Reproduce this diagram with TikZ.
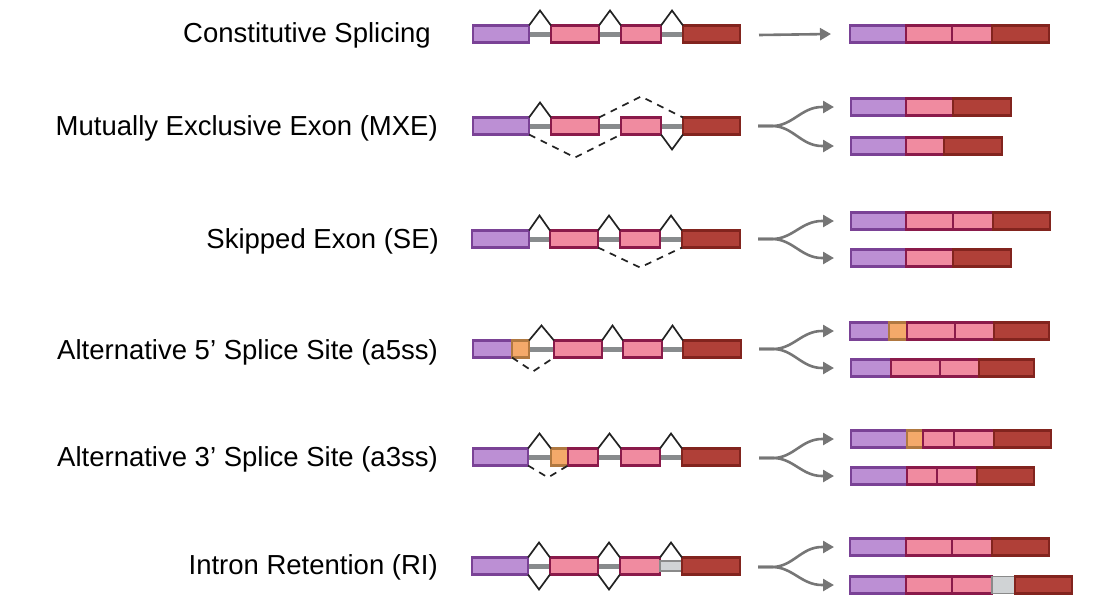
\documentclass[tikz,border=0pt]{standalone}
\usepackage{fontspec}
\setmainfont{Liberation Sans}
\usetikzlibrary{arrows.meta,calc,backgrounds}
\definecolor{purpfill}{RGB}{188,143,212}
\definecolor{purpdraw}{RGB}{122,66,150}
\definecolor{pinkfill}{RGB}{240,139,160}
\definecolor{pinkdraw}{RGB}{138,26,74}
\definecolor{redfill}{RGB}{176,64,56}
\definecolor{reddraw}{RGB}{130,36,30}
\definecolor{orfill}{RGB}{244,169,106}
\definecolor{ordraw}{RGB}{176,120,64}
\definecolor{introngray}{RGB}{136,139,141}
\definecolor{rifill}{RGB}{208,211,213}
\definecolor{ridraw}{RGB}{138,138,138}
\definecolor{arrgray}{RGB}{118,118,118}
\definecolor{splicecol}{RGB}{34,34,34}
\begin{document}
\begin{tikzpicture}[x=1pt,y=-1pt,
  ex/.style={draw, line width=2.2pt, inner sep=0pt, outer sep=0pt, minimum height=17pt, anchor=west},
  purp/.style={ex, fill=purpfill, draw=purpdraw},
  pink/.style={ex, fill=pinkfill, draw=pinkdraw},
  red/.style={ex, fill=redfill, draw=reddraw},
  orng/.style={ex, fill=orfill, draw=ordraw},
  ri/.style={ex, fill=rifill, draw=ridraw, line width=1.5pt},
  riin/.style={ex, fill=rifill, draw=ridraw, line width=1.2pt, minimum height=10pt},
  intron/.style={draw=introngray, line width=5pt},
  splice/.style={draw=splicecol, line width=1.7pt, line join=miter},
  skip/.style={draw=splicecol, line width=1.7pt, dash pattern=on 7pt off 6pt},
  arr/.style={draw=arrgray, line width=2.6pt, -{Triangle[length=11pt,width=12pt]}},
  lab/.style={anchor=base east, inner sep=0pt, font=\fontsize{27.5}{30}\selectfont}
]
\useasboundingbox (0,0) rectangle (1116,614);

% ---------- labels ----------
\node[lab] (l1) at (431,42.5) {Constitutive Splicing};
\node[lab] (l2) at (438,135) {Mutually Exclusive Exon (MXE)};
\node[lab] (l3) at (439,248) {Skipped Exon (SE)};
\node[lab] (l4) at (438,359) {Alternative 5’ Splice Site (a5ss)};
\node[lab] (l5) at (438,466) {Alternative 3’ Splice Site (a3ss)};
\node[lab] (l6) at (438,574) {Intron Retention (RI)};

% ---------- row 1: constitutive ----------
\node[purp, minimum width=56pt] (a1) at (473,34) {};
\node[pink, minimum width=48pt] (a2) at (551,34) {};
\node[pink, minimum width=40pt] (a3) at (621,34) {};
\node[red,  minimum width=57pt] (a4) at (683,34) {};
\begin{scope}[on background layer]
\draw[intron] (a1.east) -- (a2.west);
\draw[intron] (a2.east) -- (a3.west);
\draw[intron] (a3.east) -- (a4.west);
\end{scope}
\draw[splice] (a1.north east) -- ($(a1.north east)!.5!(a2.north west)+(0,-15)$) -- (a2.north west);
\draw[splice] (a2.north east) -- ($(a2.north east)!.5!(a3.north west)+(0,-15)$) -- (a3.north west);
\draw[splice] (a3.north east) -- ($(a3.north east)!.5!(a4.north west)+(0,-15)$) -- (a4.north west);

\node[purp, minimum width=56pt] (m1a) at (850,34) {};
\node[pink, minimum width=46pt] (m1b) at (906,34) {};
\node[pink, minimum width=40pt] (m1c) at (952,34) {};
\node[red,  minimum width=57pt] (m1d) at (992,34) {};
\coordinate (s1) at (759,35);
\draw[arr] (s1) -- ([xshift=-19pt]m1a.west);

% ---------- row 2: MXE ----------
\node[purp, minimum width=56pt] (b1) at (473,126) {};
\node[pink, minimum width=48pt] (b2) at (551,126) {};
\node[pink, minimum width=40pt] (b3) at (621,126) {};
\node[red,  minimum width=57pt] (b4) at (683,126) {};
\begin{scope}[on background layer]
\draw[intron] (b1.east) -- (b2.west);
\draw[intron] (b2.east) -- (b3.west);
\draw[intron] (b3.east) -- (b4.west);
\end{scope}
\draw[splice] (b1.north east) -- ($(b1.north east)!.5!(b2.north west)+(0,-15)$) -- (b2.north west);
\draw[skip] (b2.north east) -- ($(b2.north east)!.5!(b4.north west)+(0,-21)$) -- (b4.north west);
\draw[skip] (b1.south east) -- ($(b1.south east)!.5!(b3.south west)+(0,23)$) -- (b3.south west);
\draw[splice] (b3.south east) -- ($(b3.south east)!.5!(b4.south west)+(0,15)$) -- (b4.south west);

\node[purp, minimum width=55pt] (n1a) at (851,107) {};
\node[pink, minimum width=47pt] (n1b) at (906,107) {};
\node[red,  minimum width=58pt] (n1c) at (953,107) {};
\node[purp, minimum width=55pt] (n2a) at (851,146) {};
\node[pink, minimum width=38pt] (n2b) at (906,146) {};
\node[red,  minimum width=58pt] (n2c) at (944,146) {};
\coordinate (s2) at (758,126);
\draw[arr] (s2) -- ++(14,0) to[out=0,in=180] ([xshift=-29pt]n1a.west) -- ([xshift=-17pt]n1a.west);
\draw[arr] (s2) -- ++(14,0) to[out=0,in=180] ([xshift=-29pt]n2a.west) -- ([xshift=-17pt]n2a.west);

% ---------- row 3: SE ----------
\node[purp, minimum width=57pt] (c1) at (472,239) {};
\node[pink, minimum width=48pt] (c2) at (550,239) {};
\node[pink, minimum width=40pt] (c3) at (620,239) {};
\node[red,  minimum width=58pt] (c4) at (682,239) {};
\begin{scope}[on background layer]
\draw[intron] (c1.east) -- (c2.west);
\draw[intron] (c2.east) -- (c3.west);
\draw[intron] (c3.east) -- (c4.west);
\end{scope}
\draw[splice] (c1.north east) -- ($(c1.north east)!.5!(c2.north west)+(0,-15)$) -- (c2.north west);
\draw[splice] (c2.north east) -- ($(c2.north east)!.5!(c3.north west)+(0,-15)$) -- (c3.north west);
\draw[splice] (c3.north east) -- ($(c3.north east)!.5!(c4.north west)+(0,-15)$) -- (c4.north west);
\draw[skip] (c2.south east) -- ($(c2.south east)!.5!(c4.south west)+(0,20)$) -- (c4.south west);

\node[purp, minimum width=55pt] (o1a) at (851,221) {};
\node[pink, minimum width=47pt] (o1b) at (906,221) {};
\node[pink, minimum width=40pt] (o1c) at (953,221) {};
\node[red,  minimum width=57pt] (o1d) at (993,221) {};
\node[purp, minimum width=55pt] (o2a) at (851,258) {};
\node[pink, minimum width=47pt] (o2b) at (906,258) {};
\node[red,  minimum width=58pt] (o2c) at (953,258) {};
\coordinate (s3) at (758,239);
\draw[arr] (s3) -- ++(14,0) to[out=0,in=180] ([xshift=-29pt]o1a.west) -- ([xshift=-17pt]o1a.west);
\draw[arr] (s3) -- ++(14,0) to[out=0,in=180] ([xshift=-29pt]o2a.west) -- ([xshift=-17pt]o2a.west);

% ---------- row 4: a5ss ----------
\node[purp, minimum width=39pt] (d1) at (473,349) {};
\node[orng, minimum width=17pt] (d0) at (512,349) {};
\node[pink, minimum width=48pt] (d2) at (554,349) {};
\node[pink, minimum width=39pt] (d3) at (623,349) {};
\node[red,  minimum width=58pt] (d4) at (683,349) {};
\begin{scope}[on background layer]
\draw[intron] (d0.east) -- (d2.west);
\draw[intron] (d2.east) -- (d3.west);
\draw[intron] (d3.east) -- (d4.west);
\end{scope}
\draw[splice] (d0.north east) -- ($(d0.north east)!.5!(d2.north west)+(0,-15)$) -- (d2.north west);
\draw[splice] (d2.north east) -- ($(d2.north east)!.5!(d3.north west)+(0,-15)$) -- (d3.north west);
\draw[splice] (d3.north east) -- ($(d3.north east)!.5!(d4.north west)+(0,-15)$) -- (d4.north west);
\draw[skip] (d1.south east) -- ($(d1.south east)!.5!(d2.south west)+(0,14)$) -- (d2.south west);

\node[purp, minimum width=39pt] (p1a) at (850,331) {};
\node[orng, minimum width=18pt] (p1b) at (889,331) {};
\node[pink, minimum width=48pt] (p1c) at (907,331) {};
\node[pink, minimum width=39pt] (p1d) at (955,331) {};
\node[red,  minimum width=55pt] (p1e) at (994,331) {};
\node[purp, minimum width=40pt] (p2a) at (851,368) {};
\node[pink, minimum width=49pt] (p2b) at (891,368) {};
\node[pink, minimum width=39pt] (p2c) at (940,368) {};
\node[red,  minimum width=55pt] (p2d) at (979,368) {};
\coordinate (s4) at (759,349);
\draw[arr] (s4) -- ++(14,0) to[out=0,in=180] ([xshift=-28pt]p1a.west) -- ([xshift=-16pt]p1a.west);
\draw[arr] (s4) -- ++(14,0) to[out=0,in=180] ([xshift=-29pt]p2a.west) -- ([xshift=-17pt]p2a.west);

% ---------- row 5: a3ss ----------
\node[purp, minimum width=55pt] (e1) at (473,457) {};
\node[orng, minimum width=17pt] (e0) at (551,457) {};
\node[pink, minimum width=30pt] (e2) at (568,457) {};
\node[pink, minimum width=39pt] (e3) at (621,457) {};
\node[red,  minimum width=58pt] (e4) at (682,457) {};
\begin{scope}[on background layer]
\draw[intron] (e1.east) -- (e0.west);
\draw[intron] (e2.east) -- (e3.west);
\draw[intron] (e3.east) -- (e4.west);
\end{scope}
\draw[splice] (e1.north east) -- ($(e1.north east)!.5!(e0.north west)+(0,-15)$) -- (e0.north west);
\draw[splice] (e2.north east) -- ($(e2.north east)!.5!(e3.north west)+(0,-15)$) -- (e3.north west);
\draw[splice] (e3.north east) -- ($(e3.north east)!.5!(e4.north west)+(0,-15)$) -- (e4.north west);
\draw[skip] (e1.south east) -- ($(e1.south east)!.5!(e2.south west)+(0,12)$) -- (e2.south west);

\node[purp, minimum width=56pt] (q1a) at (851,439) {};
\node[orng, minimum width=16pt] (q1b) at (907,439) {};
\node[pink, minimum width=31pt] (q1c) at (923,439) {};
\node[pink, minimum width=40pt] (q1d) at (954,439) {};
\node[red,  minimum width=57pt] (q1e) at (994,439) {};
\node[purp, minimum width=56pt] (q2a) at (851,476) {};
\node[pink, minimum width=30pt] (q2b) at (907,476) {};
\node[pink, minimum width=40pt] (q2c) at (937,476) {};
\node[red,  minimum width=57pt] (q2d) at (977,476) {};
\coordinate (s5) at (759,458);
\draw[arr] (s5) -- ++(14,0) to[out=0,in=180] ([xshift=-29pt]q1a.west) -- ([xshift=-17pt]q1a.west);
\draw[arr] (s5) -- ++(14,0) to[out=0,in=180] ([xshift=-29pt]q2a.west) -- ([xshift=-17pt]q2a.west);

% ---------- row 6: RI ----------
\node[purp, minimum width=56pt] (f1) at (472,566) {};
\node[pink, minimum width=48pt] (f2) at (550,566) {};
\node[pink, minimum width=40pt] (f3) at (620,566) {};
\node[riin, minimum width=22pt] (fr) at (660,566) {};
\node[red,  minimum width=58pt] (f4) at (682,566) {};
\begin{scope}[on background layer]
\draw[intron] (f1.east) -- (f2.west);
\draw[intron] (f2.east) -- (f3.west);
\end{scope}
\draw[splice] (f1.north east) -- ($(f1.north east)!.5!(f2.north west)+(0,-15)$) -- (f2.north west);
\draw[splice] (f2.north east) -- ($(f2.north east)!.5!(f3.north west)+(0,-15)$) -- (f3.north west);
\draw[splice] (f3.north east) -- ($(f3.north east)!.5!(f4.north west)+(0,-15)$) -- (f4.north west);
\draw[splice] (f1.south east) -- ($(f1.south east)!.5!(f2.south west)+(0,15)$) -- (f2.south west);
\draw[splice] (f2.south east) -- ($(f2.south east)!.5!(f3.south west)+(0,15)$) -- (f3.south west);

\node[purp, minimum width=56pt] (r1a) at (850,547) {};
\node[pink, minimum width=46pt] (r1b) at (906,547) {};
\node[pink, minimum width=40pt] (r1c) at (952,547) {};
\node[red,  minimum width=57pt] (r1d) at (992,547) {};
\node[purp, minimum width=56pt] (r2a) at (850,585) {};
\node[pink, minimum width=46pt] (r2b) at (906,585) {};
\node[pink, minimum width=40pt] (r2c) at (952,585) {};
\node[ri,   minimum width=23pt] (r2d) at (992,585) {};
\node[red,  minimum width=57pt] (r2e) at (1015,585) {};
\coordinate (s6) at (758,567);
\draw[arr] (s6) -- ++(14,0) to[out=0,in=180] ([xshift=-28pt]r1a.west) -- ([xshift=-16pt]r1a.west);
\draw[arr] (s6) -- ++(14,0) to[out=0,in=180] ([xshift=-28pt]r2a.west) -- ([xshift=-16pt]r2a.west);
\end{tikzpicture}
\end{document}
